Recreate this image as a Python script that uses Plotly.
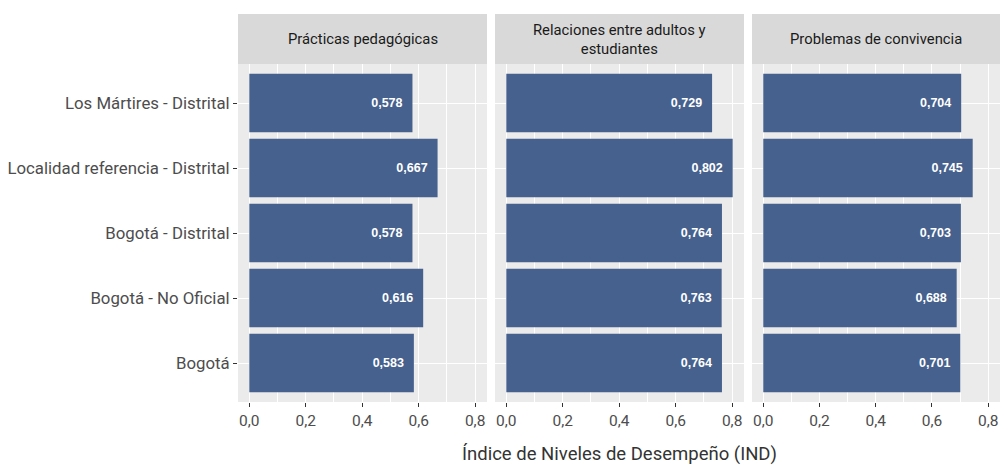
import plotly.graph_objects as go

categories = ["Los Mártires - Distrital", "Localidad referencia - Distrital",
              "Bogotá - Distrital", "Bogotá - No Oficial", "Bogotá"]
panels = ["Prácticas pedagógicas", "Relaciones entre adultos y<br>estudiantes",
          "Problemas de convivencia"]
practicas = [0.578, 0.667, 0.578, 0.616, 0.583]
relaciones = [0.729, 0.802, 0.764, 0.763, 0.764]
convivencia = [0.704, 0.745, 0.703, 0.688, 0.701]
series = [practicas, relaciones, convivencia]
x_ticks = [0.0, 0.2, 0.4, 0.6, 0.8]
x_title = "Índice de Niveles de Desempeño (IND)"

W, H = 1002, 466
bar_color = "#46618D"
font_family = "Roboto, Liberation Sans, Arial, sans-serif"

panel_px = [(238, 487), (495, 744), (752, 1000)]
plot_top, plot_bottom = 64, 402
strip_top = 14

fig = go.Figure()
xmax = max(max(s) for s in series)
xrange = [-0.05 * xmax, xmax * 1.05]

for i, (vals, title) in enumerate(zip(series, panels)):
    xa = "x" if i == 0 else f"x{i+1}"
    ya = "y" if i == 0 else f"y{i+1}"
    fig.add_trace(go.Bar(
        x=vals, y=categories, orientation="h", xaxis=xa, yaxis=ya,
        marker=dict(color=bar_color, line=dict(width=0)), width=0.9,
        text=["<b>" + f"{v:.3f}".replace(".", ",") + "</b>\u00a0\u00a0" for v in vals],
        textposition="inside", insidetextanchor="end",
        textfont=dict(color="white", size=12.5, family="Liberation Sans, Arial, sans-serif"),
        cliponaxis=False, showlegend=False, hoverinfo="skip",
    ))
    x0, x1 = panel_px[i]
    dom = [x0 / W, min(x1 / W, 1.0)]
    key_x = "xaxis" if i == 0 else f"xaxis{i+1}"
    key_y = "yaxis" if i == 0 else f"yaxis{i+1}"
    fig.update_layout(**{
        key_x: dict(
            domain=dom, anchor=ya, range=xrange, tickvals=x_ticks,
            tickformat=".1f", showgrid=True, gridcolor="white", gridwidth=1.1,
            minor=dict(showgrid=True, dtick=0.1, tick0=0, gridcolor="white", gridwidth=0.5),
            zeroline=False, ticks="outside", ticklen=4, tickcolor="#333333", tickwidth=1,
            tickfont=dict(size=15.5, color="#4D4D4D", family=font_family),
            showline=False, fixedrange=True,
        ),
        key_y: dict(
            domain=[1 - plot_bottom / H, 1 - plot_top / H], anchor=xa,
            categoryorder="array", categoryarray=categories[::-1],
            range=[-0.6, 4.6], showgrid=True, gridcolor="white", gridwidth=1.1,
            zeroline=False, showticklabels=(i == 0),
            ticks="outside" if i == 0 else "", ticklen=4, tickcolor="#333333",
            tickfont=dict(size=16.8, color="#4D4D4D", family=font_family),
            fixedrange=True,
        ),
    })
    fig.add_shape(type="rect", xref="paper", yref="paper", layer="below",
                  x0=dom[0], x1=dom[1], y0=1 - plot_bottom / H, y1=1 - plot_top / H,
                  fillcolor="#EBEBEB", line=dict(width=0))
    fig.add_shape(type="rect", xref="paper", yref="paper",
                  x0=dom[0], x1=dom[1], y0=1 - plot_top / H, y1=1 - strip_top / H,
                  fillcolor="#D9D9D9", line=dict(width=0))
    fig.add_annotation(text=title, xref="paper", yref="paper",
                       x=(dom[0] + dom[1]) / 2, y=1 - (strip_top + plot_top) / 2 / H,
                       showarrow=False, xanchor="center", yanchor="middle",
                       font=dict(size=14.8, color="#1A1A1A", family=font_family))

fig.add_annotation(text=x_title, xref="paper", yref="paper",
                   x=(panel_px[0][0] + panel_px[2][1]) / 2 / W, y=1 - 454 / H,
                   showarrow=False, xanchor="center", yanchor="middle",
                   font=dict(size=18.5, color="#333333", family=font_family))

fig.update_layout(
    width=W, height=H, margin=dict(l=0, r=0, t=0, b=0),
    paper_bgcolor="white", plot_bgcolor="rgba(0,0,0,0)",
    separators=",.", bargap=0.1,
    font=dict(family=font_family),
)

fig.write_html(
    "out.html",
    config={"displayModeBar": False},
    post_script="document.body.style.margin='0';document.body.style.overflow='hidden';",
)
